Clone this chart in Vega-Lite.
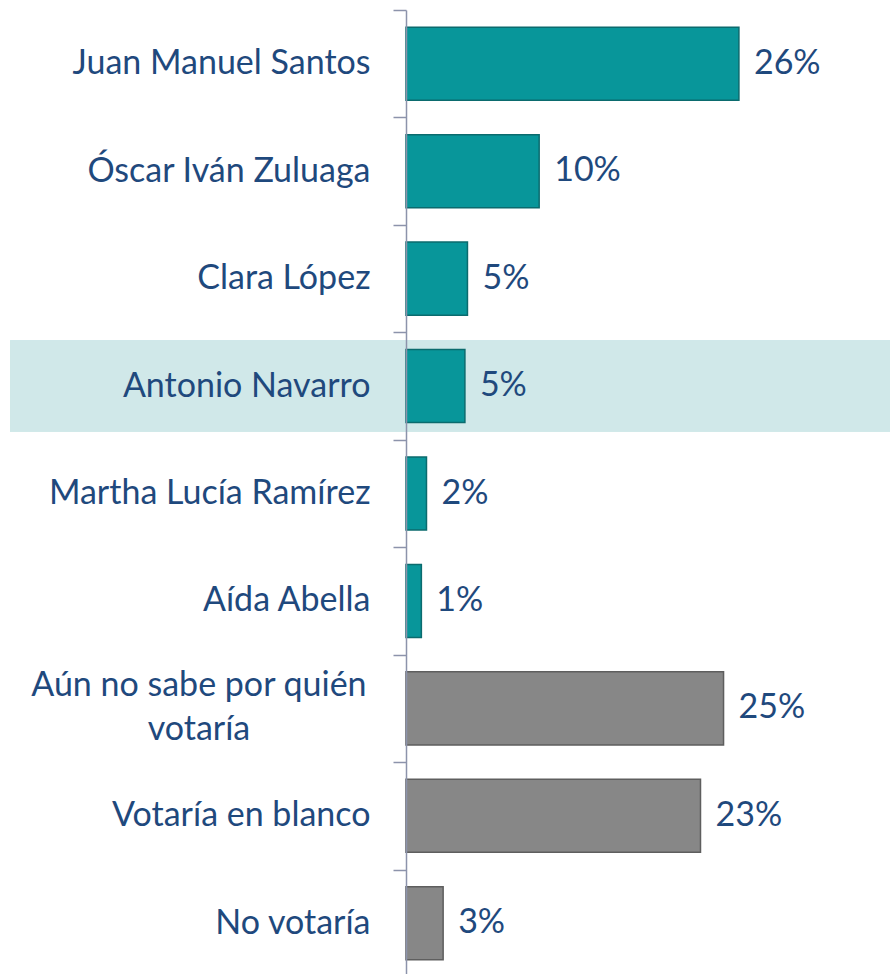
{
  "$schema": "https://vega.github.io/schema/vega-lite/v6.json",
  "autosize": {"type": "none"},
  "padding": {"left": 406, "top": 10, "right": 0, "bottom": 0},
  "width": 484,
  "height": 967,
  "background": "white",
  "config": {"view": {"stroke": null}},
  "data": {"values": [
    {"name": "Juan Manuel Santos", "share": 0.260, "group": "candidato"},
    {"name": "Óscar Iván Zuluaga", "share": 0.104, "group": "candidato"},
    {"name": "Clara López", "share": 0.048, "group": "candidato"},
    {"name": "Antonio Navarro", "share": 0.046, "group": "candidato"},
    {"name": "Martha Lucía Ramírez", "share": 0.016, "group": "candidato"},
    {"name": "Aída Abella", "share": 0.012, "group": "candidato"},
    {"name": "Aún no sabe por quién votaría", "share": 0.248, "group": "otro"},
    {"name": "Votaría en blanco", "share": 0.230, "group": "otro"},
    {"name": "No votaría", "share": 0.029, "group": "otro"}
  ]},
  "encoding": {
    "y": {
      "field": "name", "type": "nominal", "sort": null,
      "scale": {
        "domain": ["Juan Manuel Santos", "Óscar Iván Zuluaga", "Clara López", "Antonio Navarro", "Martha Lucía Ramírez", "Aída Abella", "Aún no sabe por quién votaría", "Votaría en blanco", "No votaría"],
        "paddingInner": 0, "paddingOuter": 0
      },
      "axis": {
        "title": null, "zindex": 1, "tickBand": "extent",
        "domainColor": "#8c93ab", "domainWidth": 1.5,
        "tickColor": "#8c93ab", "tickWidth": 1.5, "tickSize": 13,
        "labelFont": "Lato", "labelFontSize": 34, "labelColor": "#1F497D",
        "labelPadding": 23, "labelLimit": 400,
        "labelExpr": "datum.label == 'Aún no sabe por quién votaría' ? '' : datum.label"
      }
    },
    "x": {
      "field": "share", "type": "quantitative",
      "scale": {"domain": [0, 0.378], "nice": false, "zero": true},
      "axis": null
    }
  },
  "layer": [
    {
      "mark": {"type": "bar", "color": "#d0e8e9", "height": {"band": 0.85}, "clip": false},
      "encoding": {
        "y": {"datum": "Antonio Navarro"},
        "x": {"datum": -0.309},
        "x2": {"datum": 0.378}
      }
    },
    {
      "mark": {"type": "bar", "strokeWidth": 1.5, "height": {"band": 0.68}},
      "encoding": {
        "color": {"field": "group", "type": "nominal", "scale": {"domain": ["candidato", "otro"], "range": ["#08969a", "#878787"]}, "legend": null},
        "stroke": {"field": "group", "type": "nominal", "scale": {"domain": ["candidato", "otro"], "range": ["#0b6b6e", "#5e5e5e"]}, "legend": null}
      }
    },
    {
      "mark": {"type": "text", "align": "left", "baseline": "middle", "dx": 15, "font": "Lato", "fontSize": 34, "color": "#1F497D"},
      "encoding": {
        "text": {"field": "share", "type": "quantitative", "format": ".0%"}
      }
    },
    {
      "transform": [{"filter": "datum.name == 'Aún no sabe por quién votaría'"}],
      "mark": {"type": "text", "align": "center", "baseline": "middle", "dy": -22, "lineHeight": 44, "font": "Lato", "fontSize": 34, "color": "#1F497D", "clip": false,
        "text": ["Aún no sabe por quién", "votaría"]},
      "encoding": {
        "x": {"datum": -0.1617}
      }
    }
  ]
}
